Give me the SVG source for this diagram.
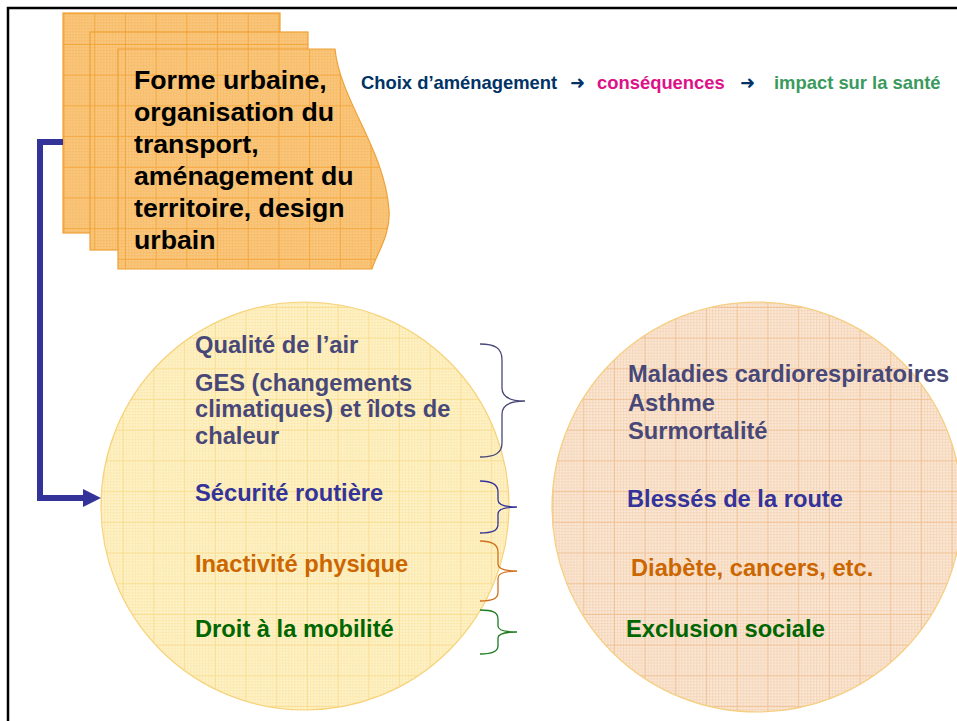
<svg xmlns="http://www.w3.org/2000/svg" width="957" height="721" viewBox="0 0 957 721">
<defs>
  <pattern id="fineO" width="3" height="3" patternUnits="userSpaceOnUse">
    <rect width="3" height="3" fill="#FAC880"/>
    <rect width="1" height="3" fill="#F6B55E" opacity="0.5"/>
    <rect width="3" height="1" fill="#F6B55E" opacity="0.5"/>
  </pattern>
  <pattern id="pageP" width="30.7" height="30.7" x="2.2" y="13.3" patternUnits="userSpaceOnUse">
    <rect width="30.7" height="30.7" fill="url(#fineO)"/>
    <path d="M0.5,0V30.7M0,0.5H30.7" stroke="#F29A22" stroke-width="1" opacity="0.6"/>
  </pattern>
  <pattern id="fineY" width="3" height="3" patternUnits="userSpaceOnUse">
    <rect width="3" height="3" fill="#FEF4CC"/>
    <rect width="1" height="3" fill="#FAE2A0" opacity="0.55"/>
    <rect width="3" height="1" fill="#FAE2A0" opacity="0.55"/>
  </pattern>
  <pattern id="circY" width="30.7" height="30.7" patternUnits="userSpaceOnUse">
    <rect width="30.7" height="30.7" fill="url(#fineY)"/>
    <path d="M0.5,0V30.7M0,0.5H30.7" stroke="#F6D270" stroke-width="1" opacity="0.45"/>
  </pattern>
  <pattern id="fineP" width="3" height="3" patternUnits="userSpaceOnUse">
    <rect width="3" height="3" fill="#FBEADB"/>
    <rect width="1" height="3" fill="#F3D0AE" opacity="0.65"/>
    <rect width="3" height="1" fill="#F3D0AE" opacity="0.65"/>
  </pattern>
  <pattern id="circP" width="30.7" height="30.7" patternUnits="userSpaceOnUse">
    <rect width="30.7" height="30.7" fill="url(#fineP)"/>
    <path d="M0.5,0V30.7M0,0.5H30.7" stroke="#EDB27A" stroke-width="1" opacity="0.5"/>
  </pattern>
  <marker id="arrow" markerUnits="userSpaceOnUse" markerWidth="20" markerHeight="20" refX="0" refY="9" orient="auto" viewBox="0 0 20 20">
    <path d="M0,0 L18,9 L0,18 Z" fill="#333399"/>
  </marker>
  <style>
    text { font-family: "Liberation Sans", Arial, sans-serif; font-weight: bold; }
    .page { fill: url(#pageP); stroke: #F0A035; stroke-width: 1.2; }
    .ptxt { font-size: 26.7px; fill: #000000; }
    .body { font-size: 23.7px; }
    .gray { fill: #484878; }
    .blue { fill: #333399; }
    .orange { fill: #CC6600; }
    .green { fill: #006600; }
    .brace { fill: none; stroke-width: 1.3; }
    .title { font-size: 18.4px; }
    .arr { font-family: "DejaVu Sans", sans-serif; font-size: 18px; font-weight: bold; fill: #003366; }
  </style>
</defs>

<rect x="8" y="8" width="1000" height="1000" fill="#FFFFFF" stroke="#000000" stroke-width="2.5"/>

<g id="circle-left">
  <circle cx="305" cy="506" r="204" fill="url(#circY)" stroke="#F7D27A" stroke-width="1.2"/>
</g>
<g id="circle-right">
  <circle cx="757" cy="507" r="205" fill="url(#circP)" stroke="#F6CE80" stroke-width="1.2"/>
</g>

<g id="pages">
  <rect class="page" x="63" y="13" width="217" height="220"/>
  <rect class="page" x="90" y="32" width="218" height="218"/>
  <path class="page" d="M118,49 L335,49 C340,100 385,150 389,210 C391,235 376,255 372,269 L118,269 Z"/>
  <text class="ptxt" x="134" y="89">Forme urbaine,</text>
  <text class="ptxt" x="134" y="121">organisation du</text>
  <text class="ptxt" x="134" y="153">transport,</text>
  <text class="ptxt" x="134" y="185">aménagement du</text>
  <text class="ptxt" x="134" y="217">territoire, design</text>
  <text class="ptxt" x="134" y="249">urbain</text>
</g>

<g id="connectors">
  <path d="M63,142 H40 V498 H83" fill="none" stroke="#333399" stroke-width="6" marker-end="url(#arrow)"/>
  <path class="brace" stroke="#484878" d="M480,344 C495,344 502,348 502,360 L502,388 C502,397 510,401 525,401 C510,401 502,405 502,414 L502,443 C502,453 495,457 480,457"/>
  <path class="brace" stroke="#333399" d="M480,481 C492,481 498,484 498,492 L498,500 C498,505 505,507 517,507 C505,507 498,509 498,514 L498,524 C498,531 492,533 480,533"/>
  <path class="brace" stroke="#D07020" d="M480,541 C492,541 498,544 498,552 L498,564 C498,569 505,571 517,571 C505,571 498,573 498,578 L498,592 C498,599 492,601 480,601"/>
  <path class="brace" stroke="#1E7B1E" d="M480,610 C492,610 498,612 498,619 L498,626 C498,630 505,632 517,632 C505,632 498,634 498,638 L498,646 C498,652 492,654 480,654"/>
</g>

<g id="title">
  <text class="title" x="361" y="89" fill="#003366">Choix d’aménagement</text>
  <text class="arr" x="570" y="89">➜</text>
  <text class="title" x="597" y="89" fill="#DD1188">conséquences</text>
  <text class="arr" x="740" y="89">➜</text>
  <text class="title" x="774" y="89" fill="#3A9A5E">impact sur la santé</text>
</g>

<g id="left-items">
  <text class="body gray" x="195" y="353">Qualité de l’air</text>
  <text class="body gray" x="195" y="391">GES (changements</text>
  <text class="body gray" x="195" y="417">climatiques) et îlots de</text>
  <text class="body gray" x="195" y="444">chaleur</text>
  <text class="body blue" x="195" y="501">Sécurité routière</text>
  <text class="body orange" x="195" y="572">Inactivité physique</text>
  <text class="body green" x="195" y="637">Droit à la mobilité</text>
</g>

<g id="right-items">
  <text class="body gray" x="628" y="382">Maladies cardiorespiratoires</text>
  <text class="body gray" x="628" y="411">Asthme</text>
  <text class="body gray" x="628" y="439">Surmortalité</text>
  <text class="body blue" x="627" y="507">Blessés de la route</text>
  <text class="body orange" x="631" y="576">Diabète, cancers, etc.</text>
  <text class="body green" x="626" y="637">Exclusion sociale</text>
</g>
</svg>
